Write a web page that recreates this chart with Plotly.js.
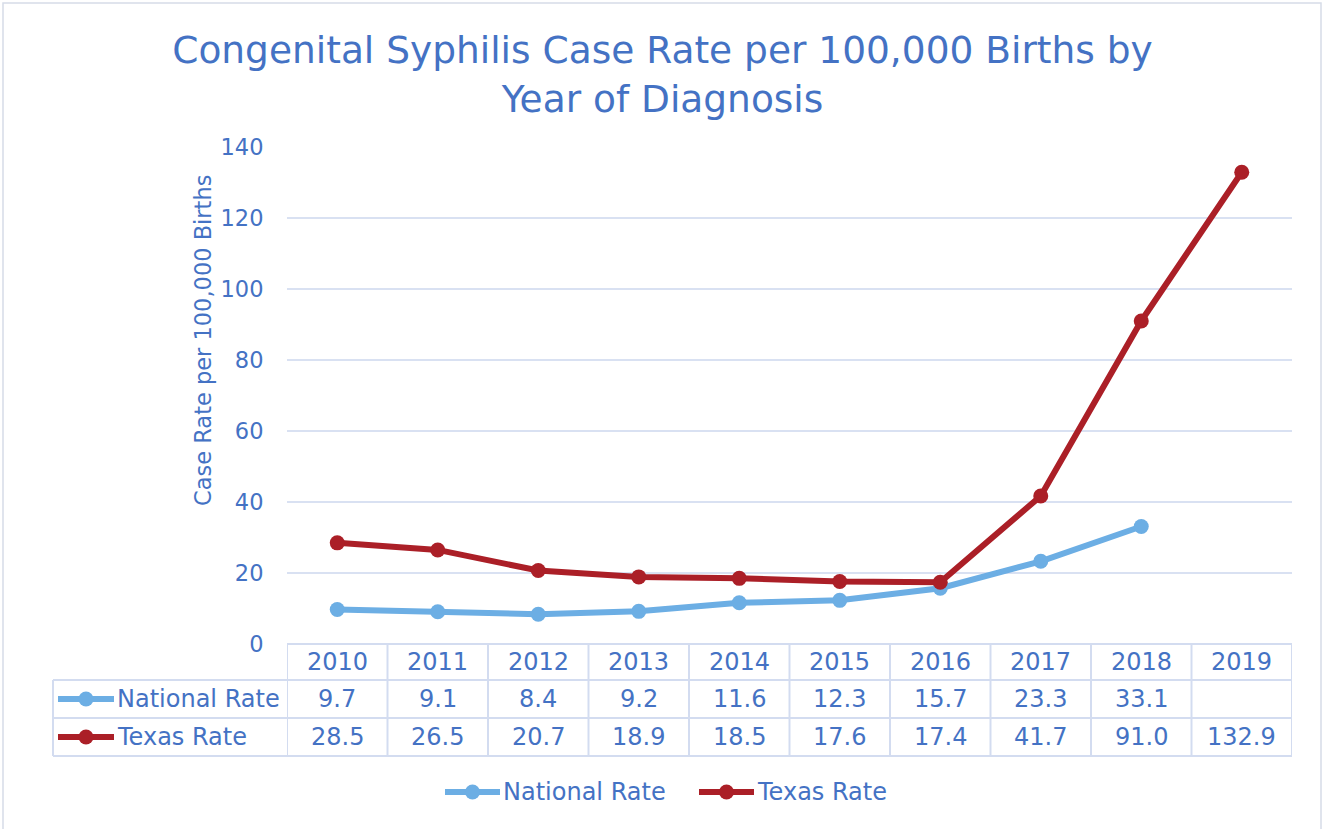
<!DOCTYPE html>
<html>
<head>
<meta charset="utf-8">
<script src="https://cdn.plot.ly/plotly-3.0.1.min.js"></script>
<style>html,body{margin:0;padding:0;background:#fff;}#chart{width:1325px;height:829px;}</style>
</head>
<body>
<div id="chart"></div>
<script>
// ---- data ----
const years = ['2010','2011','2012','2013','2014','2015','2016','2017','2018','2019'];
const nationalRate = [9.7, 9.1, 8.4, 9.2, 11.6, 12.3, 15.7, 23.3, 33.1, null];
const texasRate = [28.5, 26.5, 20.7, 18.9, 18.5, 17.6, 17.4, 41.7, 91.0, 132.9];
const seriesNames = ['National Rate', 'Texas Rate'];
const yTicks = [0, 20, 40, 60, 80, 100, 120, 140];
const titleText = 'Congenital Syphilis Case Rate per 100,000 Births by<br>Year of Diagnosis';
const yTitle = 'Case Rate per 100,000 Births';

// ---- style ----
const W = 1325, H = 829;
const L = 287, R = 1292, T = 147, B = 644;
const textBlue = '#4472C4';
const natColor = '#6CAEE4';
const texColor = '#AB1F27';
const gridColor = '#D9E1F2';
const tableColor = '#D3DCF0';
const font = 'Verdana, "DejaVu Sans", sans-serif';
const tsize = 24;
const lw = 6;
const px = x => (x - L) / (R - L);
const py = y => (B - y) / (B - T);

const traces = [
  {x: years, y: nationalRate, name: seriesNames[0], type: 'scatter', mode: 'lines+markers',
   line: {color: natColor, width: lw}, marker: {color: natColor, size: 15}, connectgaps: false},
  {x: years, y: texasRate, name: seriesNames[1], type: 'scatter', mode: 'lines+markers',
   line: {color: texColor, width: lw}, marker: {color: texColor, size: 15}, connectgaps: false}
];

const shapes = [];
const annotations = [];
const tblLine = {color: tableColor, width: 2};

// table horizontal lines
shapes.push({type: 'line', xref: 'paper', yref: 'paper', x0: 0, x1: 1, y0: py(644), y1: py(644), line: tblLine, layer: 'below'});
[680, 718, 756].forEach(y => shapes.push({type: 'line', xref: 'paper', yref: 'paper', x0: px(53), x1: 1, y0: py(y), y1: py(y), line: tblLine}));
// vertical lines
shapes.push({type: 'line', xref: 'paper', yref: 'paper', x0: px(53), x1: px(53), y0: py(680), y1: py(756), line: tblLine});
for (let i = 0; i <= years.length; i++) {
  shapes.push({type: 'line', xref: 'x', yref: 'paper', x0: i - 0.5, x1: i - 0.5, y0: py(644), y1: py(756), line: tblLine});
}
// outer chart border
shapes.push({type: 'rect', xref: 'paper', yref: 'paper', x0: px(3), x1: px(1321), y0: py(3), y1: py(835), line: {color: '#D6DCE8', width: 1.5}});

// table text
years.forEach((yr, i) => {
  annotations.push({xref: 'x', yref: 'paper', x: i, y: py(662), text: yr, showarrow: false, font: {family: font, size: tsize, color: textBlue}, xanchor: 'center', yanchor: 'middle'});
  if (nationalRate[i] !== null)
    annotations.push({xref: 'x', yref: 'paper', x: i, y: py(699), text: nationalRate[i].toFixed(1), showarrow: false, font: {family: font, size: tsize, color: textBlue}, xanchor: 'center', yanchor: 'middle'});
  if (texasRate[i] !== null)
    annotations.push({xref: 'x', yref: 'paper', x: i, y: py(737), text: texasRate[i].toFixed(1), showarrow: false, font: {family: font, size: tsize, color: textBlue}, xanchor: 'center', yanchor: 'middle'});
});

// legend keys (table rows + bottom legend)
function legendKey(x0, x1, y, color, label) {
  shapes.push({type: 'line', xref: 'paper', yref: 'paper', x0: px(x0), x1: px(x1), y0: py(y), y1: py(y), line: {color: color, width: lw}});
  const cx = (x0 + x1) / 2;
  shapes.push({type: 'circle', xref: 'paper', yref: 'paper', xsizemode: 'pixel', ysizemode: 'pixel',
    xanchor: px(cx), yanchor: py(y), x0: -7.5, x1: 7.5, y0: -7.5, y1: 7.5, fillcolor: color, line: {color: color, width: 0}});
  annotations.push({xref: 'paper', yref: 'paper', x: px(x1 + 1), y: py(y), text: label, showarrow: false, xanchor: 'left', yanchor: 'middle', font: {family: font, size: tsize, color: textBlue}});
}
legendKey(58, 114, 699, natColor, seriesNames[0]);
legendKey(58, 114, 737, texColor, seriesNames[1]);
legendKey(445, 500, 792, natColor, seriesNames[0]);
legendKey(699, 754, 792, texColor, seriesNames[1]);

// y axis title
annotations.push({xref: 'paper', yref: 'paper', x: px(203), y: py(341), text: yTitle, textangle: -90, showarrow: false, xanchor: 'center', yanchor: 'middle', font: {family: font, size: 22.5, color: textBlue}});

const layout = {
  width: W, height: H,
  margin: {l: L, r: W - R, t: T, b: H - B},
  paper_bgcolor: '#ffffff', plot_bgcolor: '#ffffff',
  showlegend: false,
  title: {text: titleText, x: 0.5, xanchor: 'center', y: 1 - 63 / H, yanchor: 'top', yref: 'container',
          font: {family: font, size: 37.5, color: textBlue}},
  xaxis: {type: 'category', range: [-0.5, 9.5], showticklabels: false, showgrid: false, zeroline: false, showline: false, ticks: '', fixedrange: true},
  yaxis: {range: [0, 140], tickvals: yTicks, ticktext: yTicks.map(String), showgrid: true, gridcolor: gridColor, gridwidth: 2,
          zeroline: false, showline: false, ticks: 'outside', ticklen: 18, tickcolor: 'rgba(0,0,0,0)',
          tickfont: {family: font, size: 22.5, color: textBlue}},
  shapes: shapes,
  annotations: annotations
};

Plotly.newPlot('chart', traces, layout, {displayModeBar: false, staticPlot: true});
</script>
</body>
</html>
